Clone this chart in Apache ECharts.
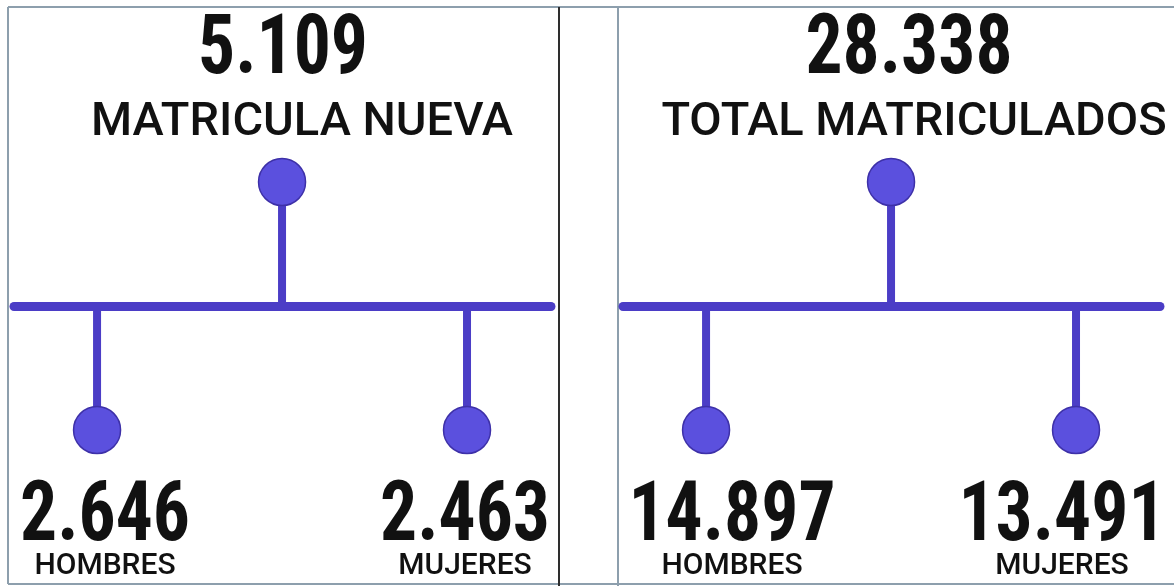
<!DOCTYPE html>
<html>
<head>
<meta charset="utf-8">
<title>Matrícula</title>
<script src="https://cdn.jsdelivr.net/npm/echarts@6/dist/echarts.min.js"></script>
<style>
  html, body { margin: 0; padding: 0; background: #fff; }
  #chart { width: 1174px; height: 586px; }
</style>
</head>
<body>
<div id="chart"></div>
<script>
// data
const panelTitles = ['MATRICULA NUEVA', 'TOTAL MATRICULADOS'];
const totals = [5109, 28338];
const hombres = [2646, 14897];
const mujeres = [2463, 13491];
const nodeNames = ['HOMBRES', 'TOTAL', 'MUJERES'];

const LINE = '#4b3dc6';
const DOT = '#5b50de';
const numFont = 'bold 84px "Liberation Sans Narrow", "Roboto Condensed", "DejaVu Sans Condensed", sans-serif';
const titleFont = '500 47px Roboto, "Noto Sans", sans-serif';
const labelFont = '500 30px Roboto, "Noto Sans", sans-serif';

// thousands with a dot, as in the picture
const fmt = (n) => String(n).replace(/\B(?=(\d{3})+(?!\d))/g, '.');

// node levels: women/men below the bar, total above it
const levels = [-1, 1, -1];

// layout per panel
const panels = [
  { gridLeft: 14, titleX: 302, totalX: 283, leftX: 105, rightX: 465 },
  { gridLeft: 623, titleX: 914, totalX: 909, leftX: 732, rightX: 1062 },
];

const chart = echarts.init(document.getElementById('chart'), null, { renderer: 'canvas' });

const grids = [];
const xAxes = [];
const yAxes = [];
const series = [];
const graphic = [];

panels.forEach((p, i) => {
  grids.push({ left: p.gridLeft, top: 182, width: 537, height: 248 });
  xAxes.push({ type: 'value', gridIndex: i, min: -0.449, max: 2.454, show: false });
  yAxes.push({ type: 'value', gridIndex: i, min: -1, max: 1, show: false });

  const points = nodeNames.map((name, k) => ({ name, value: [k, levels[k]] }));

  // stems from the bar to each node
  series.push({
    type: 'custom',
    xAxisIndex: i,
    yAxisIndex: i,
    z: 2,
    silent: true,
    data: points,
    renderItem: (params, api) => {
      const top = api.coord([api.value(0), 0]);
      const end = api.coord([api.value(0), api.value(1)]);
      return {
        type: 'line',
        shape: { x1: top[0], y1: top[1], x2: end[0], y2: end[1] },
        style: { stroke: LINE, lineWidth: 8 },
      };
    },
    markLine: {
      silent: true,
      symbol: ['none', 'none'],
      label: { show: false },
      lineStyle: { color: LINE, width: 9, type: 'solid', cap: 'round' },
      data: [{ yAxis: 0 }],
    },
  });

  series.push({
    type: 'scatter',
    xAxisIndex: i,
    yAxisIndex: i,
    z: 3,
    silent: true,
    symbolSize: 47,
    itemStyle: { color: DOT, borderColor: '#3d30a8', borderWidth: 1.5, opacity: 1 },
    data: points,
  });

  // texts
  const txt = (text, x, y, font, sx) => ({
    type: 'text',
    z: 10,
    x,
    y,
    scaleX: sx || 1,
    style: { text, x: 0, y: 0, font, fill: '#111', align: 'center', verticalAlign: 'middle' },
  });
  graphic.push(txt(fmt(totals[i]), p.totalX, 52, numFont, 0.875));
  graphic.push(txt(panelTitles[i], p.titleX, 123, titleFont));
  graphic.push(txt(fmt(hombres[i]), p.leftX, 519, numFont, 0.875));
  graphic.push(txt(nodeNames[0], p.leftX, 566, labelFont));
  graphic.push(txt(fmt(mujeres[i]), p.rightX, 519, numFont, 0.875));
  graphic.push(txt(nodeNames[2], p.rightX, 566, labelFont));
});

// panel frames
const frame = (x1, y1, x2, y2, color) => ({
  type: 'line',
  z: 5,
  shape: { x1, y1, x2, y2 },
  style: { stroke: color, lineWidth: 2 },
});
graphic.push(frame(8, 7, 1174, 7, '#8d9fad'));
graphic.push(frame(8, 7, 8, 584, '#8d9fad'));
graphic.push(frame(8, 584, 1174, 584, '#8d9fad'));
graphic.push(frame(559, 7, 559, 586, '#2e2e2e'));
graphic.push(frame(618, 7, 618, 586, '#8d9fad'));

chart.setOption({
  animation: false,
  grid: grids,
  xAxis: xAxes,
  yAxis: yAxes,
  series,
  graphic,
});

window.addEventListener('resize', () => chart.resize());
</script>
</body>
</html>
